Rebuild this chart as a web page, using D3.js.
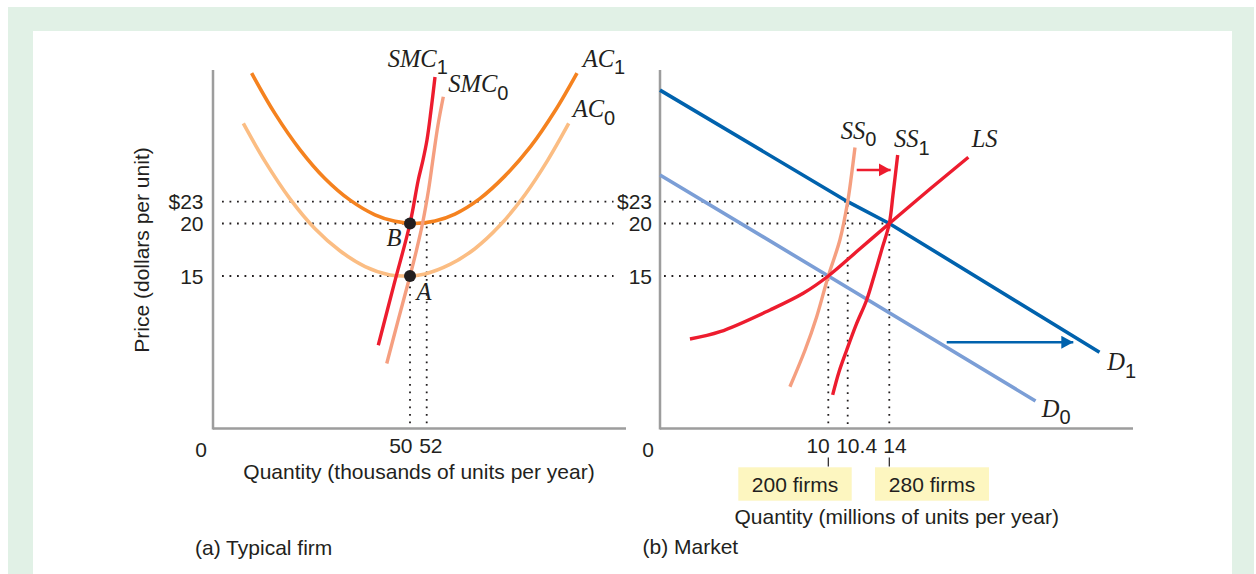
<!DOCTYPE html>
<html><head><meta charset="utf-8">
<script src="https://cdn.jsdelivr.net/npm/d3@7"></script>
<style>body{margin:0;background:#fff}</style>
</head><body>
<svg id="chart" width="1256" height="574"></svg>
<script>
// ---------- data ----------
const priceTicks = [23, 20, 15];
const priceTickLabels = ["$23", "20", "15"];
const firmQtyTicks = [50, 52];
const firmQtyTickLabels = ["50", "52"];
const marketQtyTicks = [10, 10.4, 14];
const marketQtyTickLabels = ["10", "10.4", "14"];
const firmCountQty = [10, 14];
const firmCountLabels = ["200 firms", "280 firms"];

// typical firm (quantity in thousands, price in $)
const ac1 = [[9.8,39.6],[15.7,34.4],[22.1,29.7],[28.4,26.0],[34.8,23.2],[41.1,21.2],[46.2,20.3],[50.5,20],[53.0,20.35],[55.4,21.3],[58.4,23.4],[61.4,26.3],[64.5,30.1],[67.5,34.8],[70.1,39.6]];
const ac0 = [[7.7,33.1],[13.2,28.2],[19.5,23.4],[25.9,19.5],[32.2,17.4],[38.6,15.9],[44.9,15.1],[49.0,15],[51.8,15.2],[54.8,16.1],[57.8,17.6],[60.8,19.8],[63.9,24.0],[66.6,28.4],[69.1,33.1]];
const smc1 = [[41.95,8.19],[45.9,14.1],[50,20],[50.99,25.8],[51.56,28.4],[52.04,31.0],[52.52,34.8],[53.0,39.1]];
const smc0 = [[44.1,6.39],[47.0,10.66],[50,15],[50.78,17.47],[51.5,20],[52.22,24.5],[52.82,29.0],[53.36,32.9],[54.0,36.55]];
const firmPoints = [[50,20,"B"],[50,15,"A"]];

// market (quantity in millions, price in $)
const d1 = [[0,37.4],[10.4,23],[14,20],[27.8,7.5]];
const d0 = [[0,26.45],[10,15],[23.6,2.7]];
const ss0 = [[7.72,4.11],[8.62,7.72],[9.31,11.0],[10,15],[10.24,18.45],[10.4,23],[10.73,26.45],[11.03,30.0]];
const ss1 = [[10.09,3.3],[10.22,5.56],[10.38,7.72],[11.16,10.28],[12.04,12.64],[12.71,15.1],[13.34,17.49],[14,20],[14.24,23.86],[14.55,29.03]];
const ls = [[1.78,8.80],[3.57,9.52],[6.54,11.66],[8.51,13.3],[10,15],[11.46,17.59],[14,20],[16.67,24.64],[19.19,28.73]];
const demandShift = [[17.77,8.48],[26.08,8.48]];
const supplyShift = [[11.18,27.1],[14.09,27.1]];
const marketGuides = [[10.4,23],[14,20],[10,15]];

// ---------- layout ----------
const svg = d3.select("#chart");
const ink = "#231f20";
const sans = "'Liberation Sans', Arial, Helvetica, sans-serif";
const serif = "'Liberation Serif', 'Times New Roman', serif";
const fs = 21;

svg.append("rect").attr("x",8).attr("y",7).attr("width",1246).attr("height",567).attr("fill","#e1f1e6");
svg.append("rect").attr("x",33).attr("y",31).attr("width",1199).attr("height",543).attr("fill","#fff");

const y = d3.scaleLinear().domain([0,15,20,23,40]).range([428.5,276,223.5,201.7,70]);
const xF = d3.scaleLinear().domain([0,50,52,76]).range([213,410,426.7,626]);
const xM = d3.scaleLinear().domain([0,10,10.4,14,30]).range([660,828.3,847.7,889.3,1133]);

const defs = svg.append("defs");
function marker(id, color){
  defs.append("marker").attr("id",id).attr("markerUnits","userSpaceOnUse")
    .attr("markerWidth",14).attr("markerHeight",14).attr("refX",12).attr("refY",6.5)
    .attr("orient","auto").append("path").attr("d","M0,0 L12,6.5 L0,13 Z").attr("fill",color);
}
marker("arrRed","#ed1c2e");
marker("arrBlue","#0062ad");

function curve(g, xs, data, color, w, smooth=true){
  const line = d3.line().x(d=>xs(d[0])).y(d=>y(d[1])).curve(smooth?d3.curveCatmullRom.alpha(0.5):d3.curveLinear);
  return g.append("path").datum(data).attr("d",line).attr("fill","none")
    .attr("stroke",color).attr("stroke-width",w).attr("stroke-linecap","butt");
}
function dotted(g, x1,y1,x2,y2){
  g.append("line").attr("x1",x1).attr("y1",y1).attr("x2",x2).attr("y2",y2)
    .attr("stroke",ink).attr("stroke-width",1.8).attr("stroke-dasharray","1.8 5.7");
}
function italicLabel(g, x, yy, main, sub){
  const t = g.append("text").attr("x",x).attr("y",yy).attr("fill",ink);
  t.append("tspan").attr("font-family",serif).attr("font-style","italic").attr("font-size",24.5).text(main);
  if (sub!==undefined) t.append("tspan").attr("font-family",sans).attr("font-size",20).attr("dy",7.5).text(sub);
}
function sansText(g, x, yy, s, anchor="start", size=fs){
  return g.append("text").attr("x",x).attr("y",yy).attr("font-family",sans).attr("font-size",size)
    .attr("fill",ink).attr("text-anchor",anchor).text(s);
}

// ---------- panel (a) ----------
const ga = svg.append("g");
priceTicks.forEach(p=>dotted(ga, xF(0)+9, y(p), xF(74.5), y(p)));
firmQtyTicks.forEach(q=>dotted(ga, xF(q), y(20)+3, xF(q), y(0)));
ga.append("line").attr("x1",xF(0)).attr("x2",xF(0)).attr("y1",y(0)+1).attr("y2",y(40)).attr("stroke","#9d9d9d").attr("stroke-width",2.5);
ga.append("line").attr("x1",xF(0)).attr("x2",xF(76)).attr("y1",y(0)).attr("y2",y(0)).attr("stroke","#9d9d9d").attr("stroke-width",2.5);
curve(ga, xF, ac0, "#fbbd83", 3.6);
curve(ga, xF, ac1, "#f5821f", 3.6);
curve(ga, xF, smc0, "#f59f80", 3.4);
curve(ga, xF, smc1, "#ed1c2e", 3.4);
firmPoints.forEach(d=>ga.append("circle").attr("cx",xF(d[0])).attr("cy",y(d[1])).attr("r",6).attr("fill",ink));
priceTicks.forEach((p,i)=>sansText(ga, 203.5, y(p)+7.5, priceTickLabels[i], "end"));
sansText(ga, 201, 457, "0", "middle");
sansText(ga, xF(firmQtyTicks[0])+2.5, 453, firmQtyTickLabels[0], "end");
sansText(ga, xF(firmQtyTicks[1])-7.5, 453, firmQtyTickLabels[1], "start");
italicLabel(ga, 387.7, 66.7, "SMC", "1");
italicLabel(ga, 448.3, 92, "SMC", "0");
italicLabel(ga, 582.7, 66.7, "AC", "1");
italicLabel(ga, 572.7, 117.3, "AC", "0");
italicLabel(ga, 386.5, 245.5, "B");
italicLabel(ga, 416.5, 300, "A");
sansText(ga, 419, 479, "Quantity (thousands of units per year)", "middle");
sansText(ga, 195, 555, "(a) Typical firm", "start");
ga.append("text").attr("transform","translate(149,250) rotate(-90)").attr("text-anchor","middle")
  .attr("font-family",sans).attr("font-size",fs).attr("fill",ink).text("Price (dollars per unit)");

// ---------- panel (b) ----------
const gb = svg.append("g");
marketGuides.forEach(d=>{
  dotted(gb, xM(0)+4, y(d[1]), xM(d[0]), y(d[1]));
  dotted(gb, xM(d[0]), y(d[1])+3, xM(d[0]), y(0));
});
gb.append("line").attr("x1",xM(0)).attr("x2",xM(0)).attr("y1",y(0)+1).attr("y2",y(40)).attr("stroke","#9d9d9d").attr("stroke-width",2.5);
gb.append("line").attr("x1",xM(0)).attr("x2",xM(30)).attr("y1",y(0)).attr("y2",y(0)).attr("stroke","#9d9d9d").attr("stroke-width",2.5);

curve(gb, xM, d0, "#7b9ed6", 3.6, false);
curve(gb, xM, d1, "#0062ad", 3.6, false);
curve(gb, xM, ss0, "#f59f80", 3.4);
curve(gb, xM, ls, "#ed1c2e", 3.4);
curve(gb, xM, ss1, "#ed1c2e", 3.4);
curve(gb, xM, demandShift, "#0062ad", 2.6, false).attr("marker-end","url(#arrBlue)");
curve(gb, xM, supplyShift, "#ed1c2e", 2.6, false).attr("marker-end","url(#arrRed)");

priceTicks.forEach((p,i)=>sansText(gb, 652, y(p)+7.5, priceTickLabels[i], "end"));
sansText(gb, 648, 457, "0", "middle");
sansText(gb, xM(10)+1.5, 453, marketQtyTickLabels[0], "end");
sansText(gb, xM(10.4)-11.5, 453, marketQtyTickLabels[1], "start");
sansText(gb, xM(14)-6, 453, marketQtyTickLabels[2], "start");
firmCountQty.forEach(q=>gb.append("line").attr("x1",xM(q)).attr("x2",xM(q)).attr("y1",457.5).attr("y2",466.5).attr("stroke",ink).attr("stroke-width",1.2));
const boxes = [[738.3,851.7],[875,989]];
firmCountLabels.forEach((s,i)=>{
  gb.append("rect").attr("x",boxes[i][0]).attr("y",467.3).attr("width",boxes[i][1]-boxes[i][0]).attr("height",33.4).attr("fill","#fdf6c0");
  sansText(gb, (boxes[i][0]+boxes[i][1])/2, 491.5, s, "middle");
});
italicLabel(gb, 840.7, 138.5, "SS", "0");
italicLabel(gb, 894, 147.3, "SS", "1");
italicLabel(gb, 971.7, 147.3, "LS");
italicLabel(gb, 1107.3, 370, "D", "1");
italicLabel(gb, 1041.7, 416.7, "D", "0");
sansText(gb, 896.7, 524, "Quantity (millions of units per year)", "middle");
sansText(gb, 642.5, 554, "(b) Market", "start");
</script>
</body></html>
